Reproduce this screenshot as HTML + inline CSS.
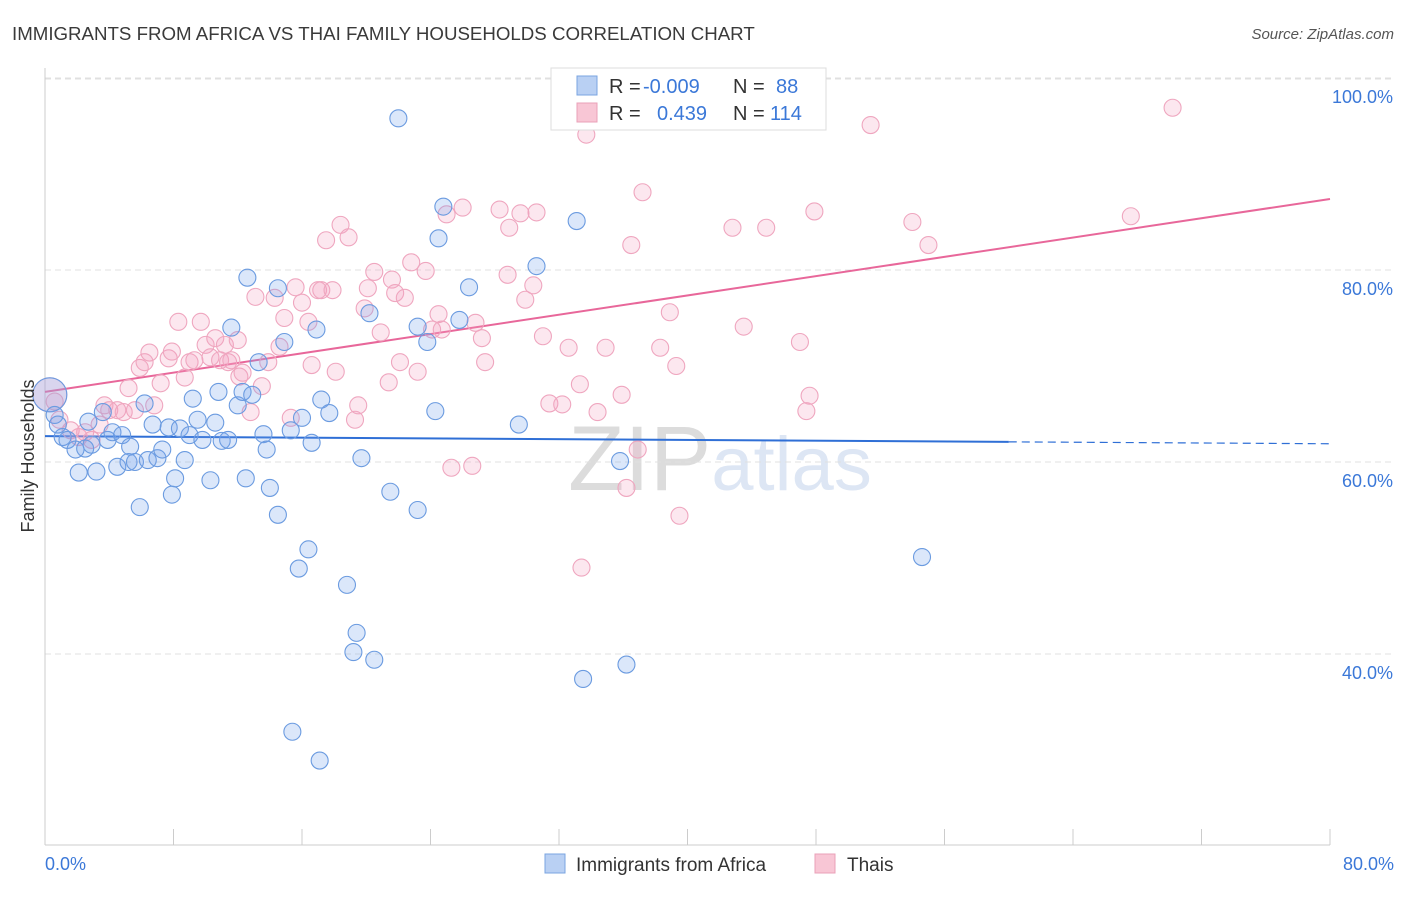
<!DOCTYPE html>
<html><head><meta charset="utf-8"><style>
body{margin:0;background:#fff;font-family:"Liberation Sans",sans-serif;}
svg text{font-family:"Liberation Sans",sans-serif;}
</style></head><body>
<svg id="chart" width="1406" height="892" xmlns="http://www.w3.org/2000/svg">
<text x="12" y="40" font-size="18.7" fill="#3a3a3a">IMMIGRANTS FROM AFRICA VS THAI FAMILY HOUSEHOLDS CORRELATION CHART</text>
<text x="1394" y="39" font-size="15" fill="#555" font-style="italic" text-anchor="end">Source: ZipAtlas.com</text>
<text x="720" y="490" font-size="92" fill="#e4e4e4" text-anchor="middle" font-family="Liberation Serif"><tspan fill="#dcdcdc">ZIP</tspan><tspan fill="#dde6f4" font-family="Liberation Sans" font-size="76">atlas</tspan></text>
<g id="grid"></g>
<g id="axes"></g>
<g id="trend"></g>
<g id="points"></g>
<text transform="translate(34,456) rotate(-90)" font-size="18" fill="#333" text-anchor="middle">Family Households</text>
<text x="45" y="870" font-size="18" fill="#3b78d8">0.0%</text>
<text x="1394" y="870" font-size="18" fill="#3b78d8" text-anchor="end">80.0%</text>
<g>
<rect x="551" y="68" width="275" height="62" fill="#fff" stroke="#ddd"/>
<rect x="577" y="76" width="20" height="19" fill="#b9d0f3" stroke="#7aa4e0"/>
<rect x="577" y="103" width="20" height="19" fill="#f8c6d5" stroke="#eaa0b8"/>
<text x="609" y="93" font-size="20" fill="#333">R = <tspan fill="#3b78d8" x="643">-0.009</tspan></text>
<text x="733" y="93" font-size="20" fill="#333">N = <tspan fill="#3b78d8" x="776">88</tspan></text>
<text x="609" y="120" font-size="20" fill="#333">R = <tspan fill="#3b78d8" x="657">0.439</tspan></text>
<text x="733" y="120" font-size="20" fill="#333">N = <tspan fill="#3b78d8" x="770">114</tspan></text>
</g>
<g>
<rect x="545" y="854" width="20" height="19" fill="#b9d0f3" stroke="#7aa4e0"/>
<text x="576" y="871" font-size="19" fill="#333">Immigrants from Africa</text>
<rect x="815" y="854" width="20" height="19" fill="#f8c6d5" stroke="#eaa0b8"/>
<text x="847" y="871" font-size="19" fill="#333">Thais</text>
</g>
</svg>
<script>
const blueX=[0.3,0.6,0.8,1.1,1.4,1.9,2.1,2.5,2.7,2.9,3.2,3.6,3.9,4.2,4.5,4.8,5.2,5.3,5.6,5.9,6.2,6.4,6.7,7.0,7.3,7.7,7.9,8.1,8.4,8.7,9.0,9.2,9.5,9.8,10.3,10.6,10.8,11.0,11.4,11.6,12.0,12.3,12.5,12.6,12.9,13.3,13.6,13.8,14.0,14.5,14.5,14.9,15.3,15.8,16.0,16.4,16.6,16.9,17.1,17.2,17.7,18.8,19.2,19.4,19.7,20.2,20.5,21.5,22.0,23.2,23.2,23.8,24.3,24.5,24.8,25.8,26.4,29.5,30.6,33.1,33.5,35.8,36.2,54.6,15.4];
const blueY=[67.0,64.9,63.9,62.6,62.3,61.3,58.9,61.4,64.2,61.8,59.0,65.2,62.3,63.1,59.5,62.8,60.0,61.6,60.0,55.3,66.1,60.2,63.9,60.4,61.3,63.6,56.6,58.3,63.5,60.2,62.8,66.6,64.4,62.3,58.1,64.1,67.3,62.2,62.3,74.0,65.9,67.3,58.3,79.2,67.0,70.4,62.9,61.3,57.3,54.5,78.1,72.5,63.3,48.9,64.6,50.9,62.0,73.8,28.9,66.5,65.1,47.2,40.2,42.2,60.4,75.5,39.4,56.9,95.8,55.0,74.1,72.5,65.3,83.3,86.6,74.8,78.2,63.9,80.4,85.1,37.4,60.1,38.9,50.1,31.9];
const pinkX=[0.3,0.6,0.9,1.6,2.1,2.5,2.9,3.4,3.7,4.0,4.5,4.9,5.2,5.6,5.9,6.2,6.5,6.8,7.2,7.7,7.9,8.3,8.7,9.0,9.3,9.7,10.0,10.3,10.6,10.9,11.2,11.4,11.6,12.0,12.1,12.3,12.8,13.1,13.5,13.9,14.3,14.6,14.9,15.3,15.6,16.0,16.4,16.6,17.0,17.2,17.5,17.9,18.1,18.4,18.9,19.3,19.5,19.9,20.1,20.5,20.9,21.4,21.6,21.8,22.1,22.4,22.8,23.2,23.7,24.1,24.5,24.7,25.0,25.3,26.0,26.6,26.8,27.2,27.4,28.3,28.8,28.9,29.6,29.9,30.4,30.6,31.0,31.4,32.2,32.6,33.3,33.7,34.4,34.9,35.9,36.2,36.5,36.9,37.2,38.3,38.9,39.3,39.5,42.8,43.5,44.9,47.0,47.4,47.6,47.9,51.4,54.0,55.0,67.6,70.2,33.4];
const pinkY=[67.0,66.3,64.4,63.3,62.6,63.1,62.3,63.9,65.9,65.4,65.4,65.2,67.7,65.4,69.8,70.4,71.4,65.9,68.2,70.8,71.5,74.6,68.8,70.4,70.6,74.6,72.2,70.9,72.9,70.6,72.2,70.4,70.6,72.7,68.9,69.3,65.2,77.2,67.9,70.4,77.1,72.0,75.0,64.6,78.2,76.6,74.6,70.1,77.9,77.9,83.1,77.9,69.4,84.7,83.4,64.4,65.9,76.0,78.1,79.8,73.5,68.3,79.0,77.6,70.4,77.1,80.8,69.4,79.9,73.8,75.4,73.8,85.8,59.4,86.5,59.6,74.5,72.9,70.4,86.3,79.5,84.4,85.9,76.9,78.4,86.0,73.1,66.1,66.0,71.9,68.1,94.1,65.2,71.9,67.0,57.3,82.6,61.3,88.1,71.9,75.6,70.0,54.4,84.4,74.1,84.4,72.5,65.3,66.9,86.1,95.1,85.0,82.6,85.6,96.9,49.0];
const blueTrend=[62.7,61.9];
const pinkTrend=[67.3,87.4];
const yTicks=[100,80,60,40];
const xTicks=[0,8,16,24,32,40,48,56,64,72,80];
const NS="http://www.w3.org/2000/svg";
const sx=v=>45+v*1285/80;
const sy=v=>1038-v*9.6;
function mk(tag,attrs,parent){const e=document.createElementNS(NS,tag);for(const k in attrs)e.setAttribute(k,attrs[k]);document.getElementById(parent).appendChild(e);return e;}
mk('line',{x1:45,x2:1394,y1:79,y2:79,stroke:'#e0e0e0','stroke-dasharray':'6,4'},'grid');
yTicks.forEach(t=>{
 const l=mk('line',{x1:45,x2:1394,y1:sy(t),y2:sy(t),stroke:'#e0e0e0','stroke-dasharray':'6,4'},'grid');
 
 
 const tx=mk('text',{x:1393,y:sy(t)+25,'font-size':18,fill:'#3b78d8','text-anchor':'end'},'grid');
 tx.textContent=t.toFixed(1)+'%';
 
 
});
const ax=mk('line',{x1:45,x2:1330,y1:845,y2:845,stroke:'#ccc'},'axes');


const ay=mk('line',{x1:45,x2:45,y1:68,y2:845,stroke:'#ccc'},'axes');


xTicks.forEach(t=>{
 const l=mk('line',{x1:sx(t),x2:sx(t),y1:829,y2:845,stroke:'#ccc'},'axes');
 
 
});
function pts(X,Y,fill,stroke,name){
 X.forEach((x,i)=>{
  const c=mk('circle',{cx:sx(x),cy:sy(Y[i]),r:i===0?17:8.5,fill:fill,stroke:stroke,'stroke-width':1.1},'points');
  
  
 });
}
pts(pinkX,pinkY,'rgba(244,160,190,0.25)','#efa6bf','thai-point');
pts(blueX,blueY,'rgba(110,160,235,0.25)','#6b9be0','africa-point');
const bt=mk('line',{x1:sx(0),y1:sy(blueTrend[0]),x2:sx(60),y2:sy(blueTrend[0]+(blueTrend[1]-blueTrend[0])*60/80),stroke:'#2f6fd6','stroke-width':2},'trend');


const bd=mk('line',{x1:sx(60),y1:sy(blueTrend[0]+(blueTrend[1]-blueTrend[0])*60/80),x2:sx(80),y2:sy(blueTrend[1]),stroke:'#2f6fd6','stroke-width':1.2,'stroke-dasharray':'8,5'},'trend');


const pt=mk('line',{x1:sx(0),y1:sy(pinkTrend[0]),x2:sx(80),y2:sy(pinkTrend[1]),stroke:'#e8679a','stroke-width':2},'trend');


</script>
</body></html>
